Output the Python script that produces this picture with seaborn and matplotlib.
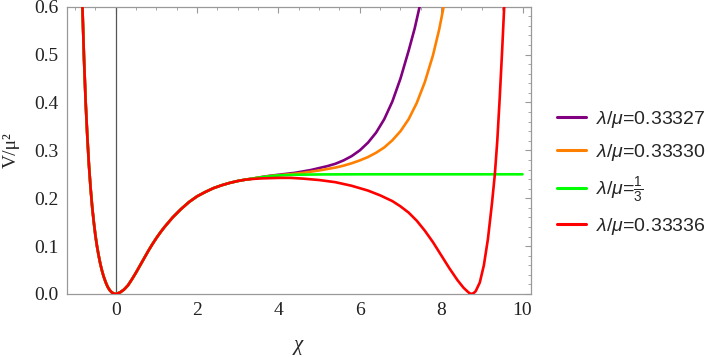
import numpy as np
import pandas as pd
import matplotlib
matplotlib.use('Agg')
import matplotlib.pyplot as plt
from matplotlib.ticker import MultipleLocator, FormatStrFormatter
from matplotlib.lines import Line2D
import seaborn as sns

# 공통 구간 (모든 곡선이 겹치는 부분)
chi_common = [-0.90, -0.86, -0.82, -0.78, -0.74, -0.70, -0.66, -0.62, -0.58, -0.54, -0.50,
              -0.46, -0.42, -0.38, -0.34, -0.30, -0.25, -0.20, -0.15, -0.10, -0.05, 0.0,
              0.10, 0.20, 0.30, 0.40, 0.50, 0.60, 0.70, 0.80, 0.90, 1.00, 1.10, 1.20,
              1.40, 1.60, 1.80, 2.00, 2.20, 2.40, 2.60, 2.80, 3.00, 3.20]
v_common = [0.86, 0.72, 0.60, 0.49, 0.40, 0.33, 0.27, 0.222, 0.182, 0.150, 0.122,
            0.099, 0.080, 0.063, 0.049, 0.037, 0.025, 0.015, 0.008, 0.0035, 0.001, 0.0,
            0.003, 0.009, 0.018, 0.031, 0.045, 0.060, 0.075, 0.090, 0.104, 0.117, 0.129, 0.140,
            0.160, 0.177, 0.192, 0.204, 0.213, 0.221, 0.227, 0.232, 0.236, 0.239]

# 각 곡선의 분기 이후 값
chi_purple = [3.4, 3.6, 3.8, 4.0, 4.2, 4.4, 4.6, 4.8, 5.0, 5.2, 5.4, 5.6, 5.8, 6.0,
              6.2, 6.4, 6.6, 6.8, 7.0, 7.2, 7.35, 7.47, 7.6]
v_purple = [0.2415, 0.2445, 0.247, 0.249, 0.251, 0.253, 0.256, 0.259, 0.263, 0.267, 0.272,
            0.279, 0.288, 0.300, 0.316, 0.337, 0.365, 0.402, 0.450, 0.508, 0.555, 0.600, 0.655]

chi_orange = [3.4, 3.6, 3.8, 4.0, 4.2, 4.4, 4.6, 4.8, 5.0, 5.2, 5.4, 5.6, 5.8, 6.0, 6.2,
              6.4, 6.6, 6.8, 7.0, 7.2, 7.4, 7.6, 7.8, 7.95, 8.05, 8.15]
v_orange = [0.2415, 0.244, 0.2465, 0.248, 0.2495, 0.251, 0.253, 0.2555, 0.258, 0.261, 0.264,
            0.268, 0.273, 0.279, 0.286, 0.295, 0.306, 0.321, 0.340, 0.365, 0.399, 0.443,
            0.499, 0.552, 0.595, 0.640]

chi_green = [3.4, 3.6, 3.8, 4.0, 4.4, 5.0, 6.0, 10.0]
v_green = [0.2415, 0.244, 0.246, 0.2475, 0.249, 0.2497, 0.250, 0.250]

chi_red = [3.4, 3.6, 3.8, 4.0, 4.3, 4.6, 5.0, 5.4, 5.8, 6.2, 6.5, 6.8, 7.0, 7.2, 7.4, 7.6,
           7.8, 8.0, 8.2, 8.4, 8.55, 8.65, 8.70, 8.75, 8.80, 8.85, 8.95, 9.05, 9.15, 9.25,
           9.32, 9.38, 9.44, 9.50, 9.55, 9.62]
v_red = [0.2405, 0.2415, 0.242, 0.2425, 0.2425, 0.241, 0.238, 0.2335, 0.226, 0.216, 0.206,
         0.194, 0.183, 0.170, 0.153, 0.132, 0.108, 0.081, 0.054, 0.029, 0.013, 0.005, 0.0015,
         0.0, 0.002, 0.006, 0.024, 0.060, 0.115, 0.190, 0.250, 0.320, 0.410, 0.510, 0.600, 0.730]

labels = [r'$\lambda/\mu$=0.33327', r'$\lambda/\mu$=0.33330',
          r'$\lambda/\mu$=$\frac{1}{3}$', r'$\lambda/\mu$=0.33336']
colors = ['#800080', '#FF8000', '#00FF00', '#FF0000']
tails = [(chi_purple, v_purple), (chi_orange, v_orange), (chi_green, v_green), (chi_red, v_red)]

frames = []
for lab, (cx, cv) in zip(labels, tails):
    frames.append(pd.DataFrame({'chi': chi_common + cx, 'V': v_common + cv, 'series': lab}))
df = pd.concat(frames, ignore_index=True)

sns.set_style('white')
plt.rcParams['font.family'] = ['Liberation Serif', 'DejaVu Serif']
plt.rcParams['mathtext.fontset'] = 'custom'
plt.rcParams['mathtext.rm'] = 'Liberation Sans'
plt.rcParams['mathtext.it'] = 'Liberation Sans:italic'

fig = plt.figure(figsize=(7.08, 3.57), dpi=100)
ax = fig.add_axes([0.094, 0.1765, 0.6555, 0.8047])

ax.axvline(0, color='#555555', lw=0.9, zorder=1)

for lab, col in zip(labels, colors):
    sub = df[df['series'] == lab]
    sns.lineplot(data=sub, x='chi', y='V', ax=ax, color=col, lw=1.9,
                 sort=False, estimator=None, legend=False, zorder=3)

ax.set_xlim(-1.21, 10.2)
ax.set_ylim(0, 0.6)
ax.xaxis.set_major_locator(MultipleLocator(2))
ax.xaxis.set_minor_locator(MultipleLocator(0.5))
ax.yaxis.set_major_locator(MultipleLocator(0.1))
ax.yaxis.set_minor_locator(MultipleLocator(0.02))
ax.yaxis.set_major_formatter(FormatStrFormatter('%.1f'))
ax.tick_params(which='both', direction='in', top=True, right=True, color='#999999',
               labelsize=14, labelcolor='#222222', pad=6)
ax.tick_params(which='major', length=4.5, width=0.8)
ax.tick_params(which='minor', length=2.5, width=0.6)
for sp in ax.spines.values():
    sp.set_color('#999999')
    sp.set_linewidth(0.9)

ax.set_xlabel('χ', fontsize=15, fontstyle='italic', labelpad=12)
ax.set_ylabel('V/μ²', fontsize=14, labelpad=10)

handles = [Line2D([0], [0], color=c, lw=2.2) for c in colors]
fig.legend(handles, labels, loc='center left', bbox_to_anchor=(0.787, 0.515),
           frameon=False, handlelength=1.5, handletextpad=0.5,
           labelspacing=0.6, borderpad=0, borderaxespad=0,
           prop={'family': 'Liberation Sans', 'size': 14})

fig.savefig('out.png', dpi=100, facecolor='white')
